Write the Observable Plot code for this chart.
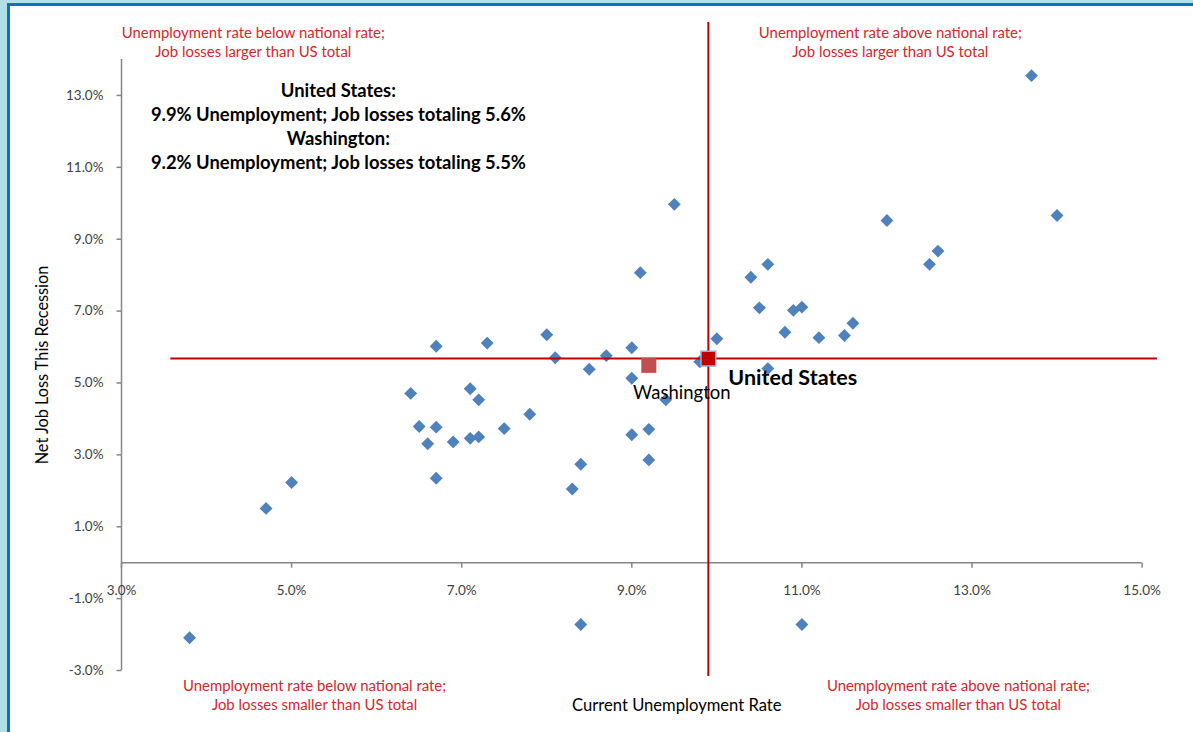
<!DOCTYPE html>
<html><head><meta charset="utf-8">
<script src="https://cdn.jsdelivr.net/npm/d3@7"></script>
<script src="https://cdn.jsdelivr.net/npm/@observablehq/plot@0.6"></script>
<style>
html,body{margin:0;padding:0;background:#fff;}
#wrap{position:relative;width:1193px;height:732px;overflow:hidden;background:#fff;}
.b{position:absolute;}
#chart{position:absolute;left:0;top:0;}
</style></head>
<body>
<div id="wrap">
  <div class="b" style="left:0;top:0;width:7px;height:732px;background:#b0e0e6"></div>
  <div class="b" style="left:0;top:0;width:1193px;height:3px;background:#b0e0e6"></div>
  <div class="b" style="left:7px;top:3px;width:2.5px;height:729px;background:#0a70c0"></div>
  <div class="b" style="left:7px;top:3px;width:1186px;height:2.5px;background:#0a70c0"></div>
  <div id="chart"></div>
</div>
<script>
// ---- data ----
const unemploymentRate = [13.7, 9.5, 12.0, 14.0, 12.6, 12.5, 10.6, 9.1, 10.4, 10.5,
  10.9, 11.0, 11.6, 10.8, 11.2, 11.5, 10.0, 8.0, 7.3, 6.7,
  9.0, 8.1, 8.7, 9.8, 8.5, 10.6, 9.0, 6.4, 7.1, 7.2,
  9.4, 7.8, 6.5, 6.7, 7.5, 6.6, 6.9, 7.1, 7.2, 9.0,
  9.2, 9.2, 8.4, 8.3, 6.7, 4.7, 5.0, 3.8, 8.4, 11.0];
const jobLossRate = [13.55, 9.97, 9.52, 9.66, 8.67, 8.30, 8.30, 8.07, 7.94, 7.09,
  7.02, 7.11, 6.66, 6.41, 6.26, 6.32, 6.23, 6.34, 6.11, 6.02,
  5.98, 5.70, 5.76, 5.59, 5.38, 5.40, 5.13, 4.71, 4.84, 4.53,
  4.53, 4.13, 3.79, 3.77, 3.73, 3.31, 3.36, 3.46, 3.50, 3.56,
  3.71, 2.86, 2.74, 2.05, 2.35, 1.51, 2.23, -2.09, -1.72, -1.72];

const usRate = 9.9, usLoss = 5.68;
const waRate = 9.2, waLoss = 5.49;

const xTicks = [3, 5, 7, 9, 11, 13, 15];
const yTicks = [-3, -1, 1, 3, 5, 7, 9, 11, 13];
const xDomain = [3, 15];
const yDomain = [-3, 14];
const usLineXExtent = [3.58, 15.18];
const usLineYExtent = [-3.17, 15.03];

const quadrantText = [
  "Unemployment rate below national rate;\nJob losses larger than US total",
  "Unemployment rate above national rate;\nJob losses larger than US total",
  "Unemployment rate below national rate;\nJob losses smaller than US total",
  "Unemployment rate above national rate;\nJob losses smaller than US total"
];
const quadrantX = [4.55, 12.04, 5.27, 12.84];
const quadrantY = [14.49, 14.49, -3.67, -3.67];

const infoText = "United States:\n9.9% Unemployment; Job losses totaling 5.6%\nWashington:\n9.2% Unemployment; Job losses totaling 5.5%";
const infoX = 5.55, infoY = 12.17;

const xTitle = "Current Unemployment Rate";
const yTitle = "Net Job Loss This Recession";

// ---- build ----
const states = unemploymentRate.map((u, i) => ({u, j: jobLossRate[i]}));
const pct = d => d.toFixed(1) + "%";
const tickDown = {draw(c) { c.moveTo(0, 0); c.lineTo(0, 5); }};
const tickLeft = {draw(c) { c.moveTo(0, 0); c.lineTo(-5, 0); }};
const FONT = "Lato, 'Open Sans', sans-serif";
const AX = "#868686", RED = "#c00000", NOTE = "#d7262a", LBL = "#404040";

const chart = Plot.plot({
  width: 1193, height: 732,
  marginLeft: 121, marginRight: 51.4, marginTop: 59, marginBottom: 62,
  x: {domain: xDomain, axis: null},
  y: {domain: yDomain, axis: null},
  style: {background: "transparent", fontFamily: FONT},
  marks: [
    // axes
    Plot.ruleX([xDomain[0]], {y1: yDomain[0], y2: yDomain[1], stroke: AX, strokeWidth: 1.5}),
    Plot.ruleY([0], {x1: xDomain[0], x2: xDomain[1], stroke: AX, strokeWidth: 1.5}),
    Plot.dot(xTicks, {x: d => d, y: 0, symbol: tickDown, r: 1, fill: "none", stroke: AX, strokeWidth: 1.5}),
    Plot.dot(yTicks, {x: xDomain[0], y: d => d, symbol: tickLeft, r: 1, fill: "none", stroke: AX, strokeWidth: 1.5}),
    Plot.text(xTicks, {x: d => d, y: 0, dy: 28, text: pct, fontSize: 13.5, fill: LBL}),
    Plot.text(yTicks, {x: xDomain[0], y: d => d, dx: -18, textAnchor: "end", text: pct, fontSize: 13.5, fill: LBL}),
    // axis titles
    Plot.text([xTitle], {frameAnchor: "bottom", dx: 45, dy: 35, textAnchor: "middle", lineAnchor: "middle", text: d => d, fontSize: 16.6, fill: "#000"}),
    Plot.text([yTitle], {frameAnchor: "left", dx: -79, rotate: -90, textAnchor: "middle", lineAnchor: "middle", text: d => d, fontSize: 16.3, fill: "#000"}),
    // states
    Plot.dot(states, {x: "u", y: "j", symbol: "diamond2", r: 5.8, fill: "#4f81bd"}),
    // US reference lines
    Plot.ruleY([usLoss], {x1: usLineXExtent[0], x2: usLineXExtent[1], stroke: RED, strokeWidth: 2}),
    Plot.ruleX([usRate], {y1: usLineYExtent[0], y2: usLineYExtent[1], stroke: RED, strokeWidth: 2}),
    // Washington and US markers
    Plot.dot([{u: waRate, j: waLoss}], {x: "u", y: "j", symbol: "square", r: 8.5, fill: "#c0504d"}),
    Plot.dot([{u: usRate, j: usLoss}], {x: "u", y: "j", symbol: "square", r: 8.3, fill: RED, stroke: "#8eb1dc", strokeWidth: 1.5}),
    Plot.text([{u: waRate, j: waLoss}], {x: "u", y: "j", dx: 33, dy: 28, text: () => "Washington", fontSize: 18.5, fill: "#000"}),
    Plot.text([{u: usRate, j: usLoss}], {x: "u", y: "j", dx: 20, dy: 20, textAnchor: "start", text: () => "United States", fontSize: 21.5, fontWeight: "bold", fill: "#000"}),
    // notes
    Plot.text(quadrantText, {x: (d, i) => quadrantX[i], y: (d, i) => quadrantY[i], text: d => d, fontSize: 14.9, lineHeight: 1.275, fill: NOTE}),
    Plot.text([infoText], {x: infoX, y: infoY, text: d => d, fontSize: 18.4, fontWeight: "bold", lineHeight: 1.3, fill: "#000"})
  ]
});
document.getElementById("chart").appendChild(chart);
</script>
</body></html>
